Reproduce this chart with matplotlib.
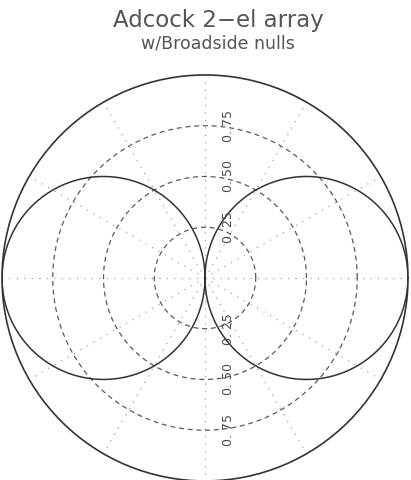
import numpy as np
import matplotlib
matplotlib.use("Agg")
import matplotlib.pyplot as plt

# --- data ---
title_main = "Adcock 2\u2212el array"
title_sub = "w/Broadside nulls"
ring_levels = [0.25, 0.50, 0.75]
ring_labels = ["0. 25", "0. 50", "0. 75"]
spoke_angles_deg = [0, 30, 60, 90, 120, 150, 180, 210, 240, 270, 300, 330]

# pattern of two elements with broadside nulls: |cos(phi)|
phi = np.linspace(0, 2 * np.pi, 721)
gain = np.abs(np.cos(phi))

fig = plt.figure(figsize=(4.11, 4.80), dpi=100)
ax = fig.add_axes([0.00487, -0.002, 0.9878, 0.8458], projection="polar")
ax.set_ylim(0, 1)
ax.grid(False)
ax.set_xticks([])
ax.set_yticks([])
ax.spines["polar"].set_color("#333333")
ax.spines["polar"].set_linewidth(1.2)
ax.spines["polar"].set_clip_on(False)

# dotted spokes
for a in spoke_angles_deg:
    t = np.deg2rad(a)
    ax.plot([t, t], [0, 1], color="#a0a0a0", lw=0.9, ls=(0, (1, 5)))

# dashed rings
ring_t = np.linspace(0, 2 * np.pi, 361)
for r in ring_levels:
    ax.plot(ring_t, np.full_like(ring_t, r), color="#5a5a5a", lw=0.9, ls=(0, (4, 3)))

# pattern lobes
ax.plot(phi, gain, color="#333333", lw=1.1)

# ring labels along the vertical axis
for r, lab in zip(ring_levels, ring_labels):
    for t in (np.pi / 2, 3 * np.pi / 2):
        ax.annotate(lab, xy=(t, r), xytext=(17, 0), textcoords="offset points",
                    rotation=90, ha="center", va="center", fontsize=9,
                    color="#4a4a4a")

fig.text(0.532, 0.958, title_main, ha="center", va="center", fontsize=16.5, color="#555555")
fig.text(0.530, 0.910, title_sub, ha="center", va="center", fontsize=12.5, color="#555555")

fig.savefig("out.png", dpi=100)
